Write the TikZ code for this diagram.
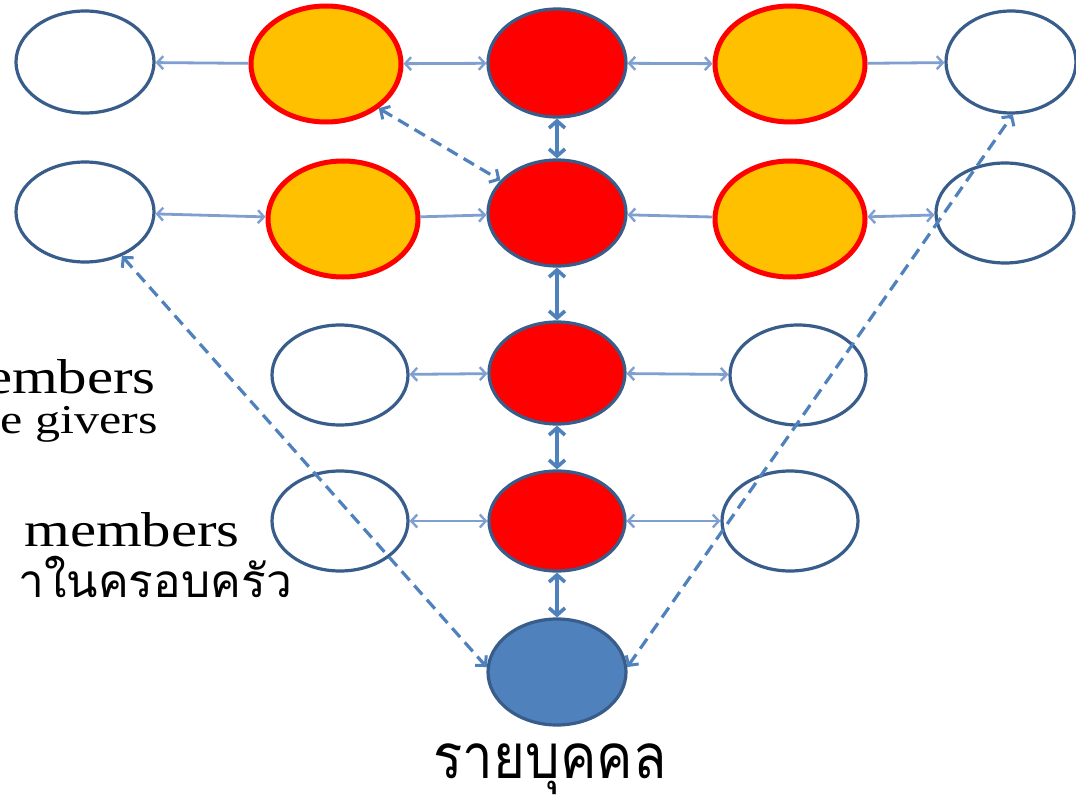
\documentclass[tikz,border=0pt]{standalone}
\usepackage{fontspec}
\setmainfont{Liberation Serif}
\newfontfamily\thaifont[Script=Thai]{Loma}
\usetikzlibrary{shapes.geometric,arrows.meta}
\definecolor{dblue}{HTML}{385D8A}
\definecolor{mblue}{HTML}{4F81BD}
\definecolor{lblue}{HTML}{7F9FD0}
\definecolor{ogold}{HTML}{FFC000}
\begin{document}
\begin{tikzpicture}[x=1pt,y=-1pt,
  el/.style={ellipse,draw=dblue,line width=3.2pt,minimum width=138pt,minimum height=102pt,inner sep=0pt},
  wnode/.style={el,fill=white},
  onode/.style={ellipse,draw=red,line width=5pt,fill=ogold,minimum width=150pt,minimum height=116pt,inner sep=0pt},
  rnode/.style={el,fill=red},
  bnode/.style={el,fill=mblue,minimum height=106pt},
  hline/.style={draw=lblue,line width=2.8pt,>={Straight Barb[length=6pt,width=13pt,line width=2.4pt]}},
  vline/.style={draw=mblue,line width=4.2pt,>={Straight Barb[length=7pt,width=16pt,line width=3.6pt]}},
  dline/.style={draw=mblue,line width=3.2pt,dash pattern=on 12pt off 7pt,>={Straight Barb[length=7pt,width=15pt,line width=3pt]}},
  lbl/.style={anchor=base east,inner sep=0pt}
]
\useasboundingbox[fill=white] (0,0) rectangle (1076,797);
% row 1
\node[wnode] (w1) at (85,62) {};
\node[onode] (o1) at (326,64) {};
\node[rnode,minimum height=108pt] (r1) at (557,63) {};
\node[onode] (o1r) at (790,64) {};
\node[wnode,minimum width=130pt] (w1r) at (1011,62) {};
% row 2
\node[wnode,minimum height=100pt] (w2) at (85,212) {};
\node[onode] (o2) at (343,219) {};
\node[rnode,minimum height=106pt] (r2) at (557,213) {};
\node[onode] (o2r) at (790,219) {};
\node[wnode,minimum height=100pt] (w2r) at (1005,213) {};
% row 3
\node[wnode,minimum width=136pt,minimum height=100pt] (w3) at (340,375) {};
\node[rnode,minimum width=136pt] (r3) at (557,373) {};
\node[wnode,minimum width=136pt,minimum height=100pt] (w3r) at (798,375) {};
% row 4
\node[wnode,minimum width=136pt,minimum height=100pt] (w4) at (340,521) {};
\node[rnode,minimum width=136pt,minimum height=100pt] (r4) at (557,521) {};
\node[wnode,minimum width=136pt,minimum height=100pt] (w4r) at (790,521) {};
% row 5
\node[bnode] (b) at (557,672) {};
% horizontal links
\draw[hline,<-] (w1) -- (o1);
\draw[hline,<->] (o1) -- (r1);
\draw[hline,<->] (r1) -- (o1r);
\draw[hline,->] (o1r) -- (w1r);
\draw[hline,<->] (w2) -- (o2);
\draw[hline,->] (o2) -- (r2);
\draw[hline,<-] (r2) -- (o2r);
\draw[hline,<->] (o2r) -- (w2r);
\draw[hline,<->] (w3) -- (r3);
\draw[hline,<->] (r3) -- (w3r);
\draw[hline,<->] (w4) -- (r4);
\draw[hline,<->] (r4) -- (w4r);
% vertical links
\draw[vline,<->] (r1) -- (r2);
\draw[vline,<->] (r2) -- (r3);
\draw[vline,<->] (r3) -- (r4);
\draw[vline,<->] (r4) -- (b);
% dashed links
\draw[dline,<->] (o1.-40) -- (r2.150);
\draw[dline,<->] (w2.-50) -- (b.176);
\draw[dline,<->] (b.4) -- (w1r.-88);
% texts
\node[lbl,font=\fontsize{49}{49}\selectfont] (t1) at (156,393) {\scalebox{1.2}[1]{embers}};
\node[lbl,font=\fontsize{41}{41}\selectfont] (t2) at (158,433) {\scalebox{1.22}[1]{e givers}};
\node[lbl,font=\fontsize{49}{49}\selectfont] (t3) at (240,546) {\scalebox{1.2}[1]{members}};
\node[lbl,font=\thaifont\fontsize{46}{46}\selectfont] (t4) at (292,597) {\scalebox{1.0}[1]{าในครอบครัว}};
\node[anchor=base,inner sep=0pt,font=\thaifont\fontsize{62}{62}\selectfont] (t5) at (550,778) {\scalebox{0.88}[1]{รายบุคคล}};
\end{tikzpicture}
\end{document}
